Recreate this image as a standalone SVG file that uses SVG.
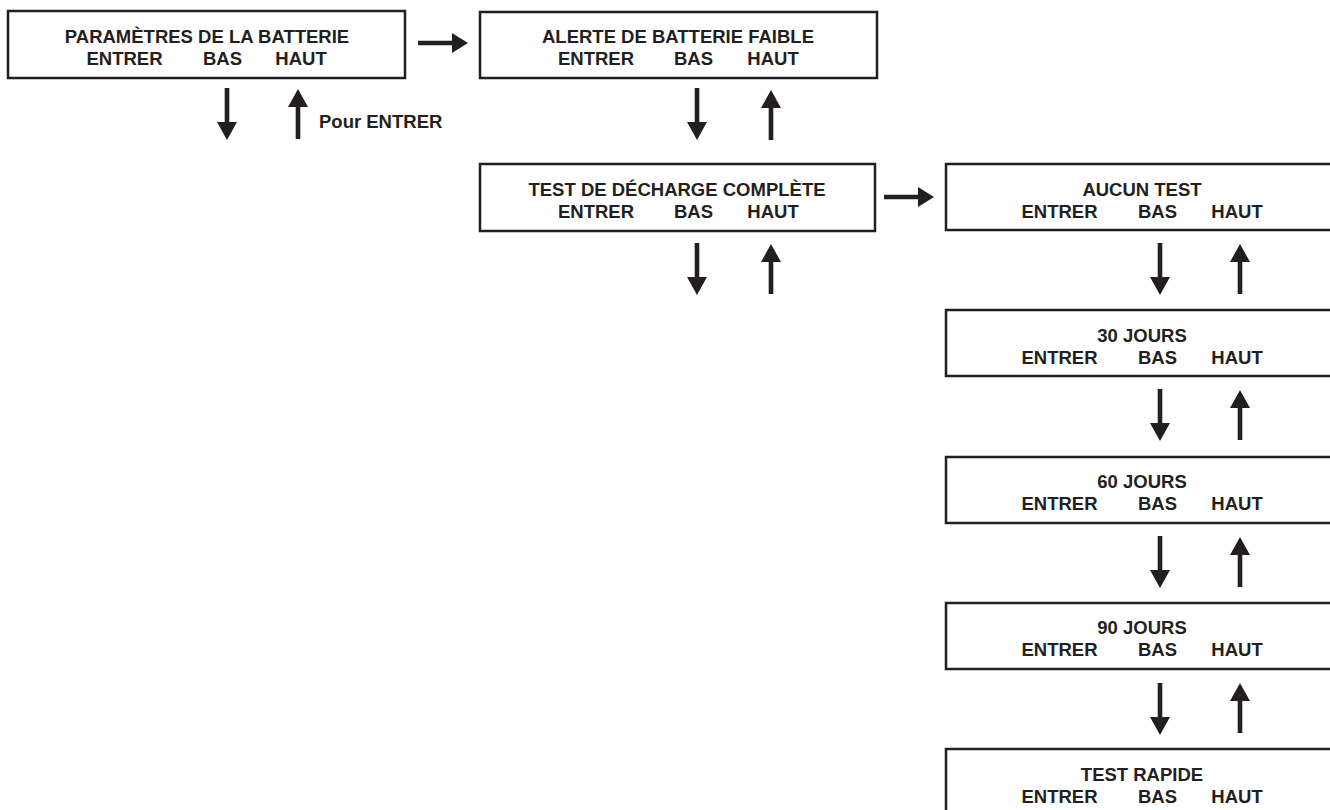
<svg xmlns="http://www.w3.org/2000/svg" xmlns:xlink="http://www.w3.org/1999/xlink" width="1330" height="810" viewBox="0 0 1330 810">
<style>
.box{fill:#fff;stroke:#231f20;stroke-width:2.5}
.t{font-family:"Liberation Sans",Arial,sans-serif;font-weight:bold;font-size:18.5px;fill:#231f20;text-anchor:middle}
.l{text-anchor:start}
.arr{fill:#231f20}
</style>
<defs>
<path id="down" class="arr" d="M-2.3,0 H2.3 V34 H10 L0,52 L-10,34 H-2.3 Z"/>
<path id="up" class="arr" d="M0,0 L10,18 H2.3 V50 H-2.3 V18 H-10 Z"/>
<path id="right" class="arr" d="M0,-2.3 H34 V-10 L50,0 L34,10 V2.3 H0 Z"/>
</defs>
<rect width="1330" height="810" fill="#fff"/>
<g id="n1">
<rect class="box" x="8" y="11" width="397" height="67"/>
<text class="t" x="207" y="43">PARAMÈTRES DE LA BATTERIE</text>
<text class="t" x="124.5" y="65">ENTRER</text><text class="t" x="222.5" y="65">BAS</text><text class="t" x="301" y="65">HAUT</text>
</g>
<g id="n2">
<rect class="box" x="480" y="12" width="397" height="66"/>
<text class="t" x="678" y="43">ALERTE DE BATTERIE FAIBLE</text>
<text class="t" x="596" y="65">ENTRER</text><text class="t" x="693.5" y="65">BAS</text><text class="t" x="773" y="65">HAUT</text>
</g>
<g id="n3">
<rect class="box" x="480" y="164" width="395" height="67"/>
<text class="t" x="677" y="196">TEST DE DÉCHARGE COMPLÈTE</text>
<text class="t" x="596" y="218">ENTRER</text><text class="t" x="693.5" y="218">BAS</text><text class="t" x="773" y="218">HAUT</text>
</g>
<g id="n4">
<rect class="box" x="946" y="164" width="397" height="66"/>
<text class="t" x="1142" y="196">AUCUN TEST</text>
<text class="t" x="1059.5" y="218">ENTRER</text><text class="t" x="1157.5" y="218">BAS</text><text class="t" x="1237" y="218">HAUT</text>
</g>
<g id="n5">
<rect class="box" x="946" y="310" width="397" height="66"/>
<text class="t" x="1142" y="342">30 JOURS</text>
<text class="t" x="1059.5" y="364">ENTRER</text><text class="t" x="1157.5" y="364">BAS</text><text class="t" x="1237" y="364">HAUT</text>
</g>
<g id="n6">
<rect class="box" x="946" y="457" width="397" height="66"/>
<text class="t" x="1142" y="488">60 JOURS</text>
<text class="t" x="1059.5" y="510">ENTRER</text><text class="t" x="1157.5" y="510">BAS</text><text class="t" x="1237" y="510">HAUT</text>
</g>
<g id="n7">
<rect class="box" x="946" y="603" width="397" height="66"/>
<text class="t" x="1142" y="634">90 JOURS</text>
<text class="t" x="1059.5" y="656">ENTRER</text><text class="t" x="1157.5" y="656">BAS</text><text class="t" x="1237" y="656">HAUT</text>
</g>
<g id="n8">
<rect class="box" x="946" y="749" width="397" height="66"/>
<text class="t" x="1142" y="781">TEST RAPIDE</text>
<text class="t" x="1059.5" y="803">ENTRER</text><text class="t" x="1157.5" y="803">BAS</text><text class="t" x="1237" y="803">HAUT</text>
</g>
<g id="connectors">
<use href="#right" xlink:href="#right" x="418" y="43"/>
<use href="#right" xlink:href="#right" x="884" y="197"/>
<use href="#down" xlink:href="#down" x="227" y="88"/>
<use href="#up" xlink:href="#up" x="298" y="89"/>
<use href="#down" xlink:href="#down" x="697" y="88"/>
<use href="#up" xlink:href="#up" x="771" y="90"/>
<use href="#down" xlink:href="#down" x="697" y="243"/>
<use href="#up" xlink:href="#up" x="771" y="244"/>
<use href="#down" xlink:href="#down" x="1160" y="243"/>
<use href="#up" xlink:href="#up" x="1240" y="244"/>
<use href="#down" xlink:href="#down" x="1160" y="389"/>
<use href="#up" xlink:href="#up" x="1240" y="390"/>
<use href="#down" xlink:href="#down" x="1160" y="536"/>
<use href="#up" xlink:href="#up" x="1240" y="537"/>
<use href="#down" xlink:href="#down" x="1160" y="683"/>
<use href="#up" xlink:href="#up" x="1240" y="683"/>
<text class="t l" x="319" y="128">Pour ENTRER</text>
</g>
</svg>
